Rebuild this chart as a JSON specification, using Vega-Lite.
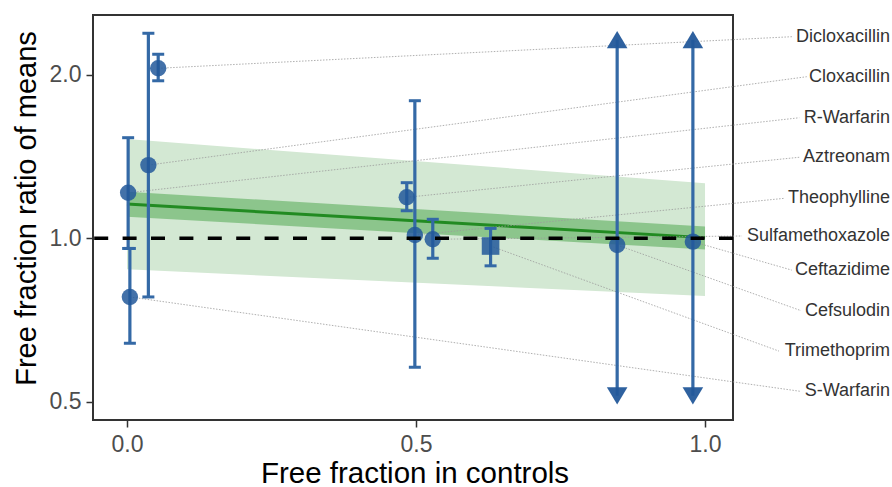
{
  "$schema": "https://vega.github.io/schema/vega-lite/v6.json",
  "width": 640,
  "height": 405,
  "autosize": {"type": "none"},
  "padding": {"left": 93, "top": 15, "right": 159, "bottom": 67},
  "background": "white",
  "config": {
    "font": "Liberation Sans",
    "view": {"stroke": "#333333", "strokeWidth": 2},
    "axis": {
      "grid": false,
      "domain": false,
      "tickColor": "#333333",
      "tickWidth": 1.5,
      "tickSize": 7,
      "labelColor": "#4d4d4d",
      "labelFont": "Liberation Sans",
      "titleFont": "Liberation Sans",
      "titleFontWeight": "normal",
      "titleColor": "#000000"
    }
  },
  "datasets": {
    "drugs": [
      {"name": "Dicloxacillin", "ff": 0.054, "ratio": 2.056, "lo": 1.950, "hi": 2.182, "arrow": false, "shape": "circle", "label_y": 2.351, "seg_end": 1.152},
      {"name": "Cloxacillin", "ff": 0.037, "ratio": 1.364, "lo": 0.780, "hi": 2.385, "arrow": false, "shape": "circle", "label_y": 1.984, "seg_end": 1.176},
      {"name": "R-Warfarin", "ff": 0.002, "ratio": 1.213, "lo": 0.958, "hi": 1.532, "arrow": false, "shape": "circle", "label_y": 1.667, "seg_end": 1.163},
      {"name": "Aztreonam", "ff": 0.484, "ratio": 1.190, "lo": 1.124, "hi": 1.266, "arrow": false, "shape": "circle", "label_y": 1.410, "seg_end": 1.163},
      {"name": "Theophylline", "ff": 0.498, "ratio": 1.014, "lo": 0.579, "hi": 1.792, "arrow": false, "shape": "circle", "label_y": 1.185, "seg_end": 1.138},
      {"name": "Sulfamethoxazole", "ff": 0.529, "ratio": 0.996, "lo": 0.919, "hi": 1.084, "arrow": false, "shape": "circle", "label_y": 1.010, "seg_end": 1.064},
      {"name": "Ceftazidime", "ff": 0.979, "ratio": 0.986, "lo": 0.513, "hi": 2.321, "arrow": true, "shape": "circle", "label_y": 0.874, "seg_end": 1.150},
      {"name": "Cefsulodin", "ff": 0.848, "ratio": 0.972, "lo": 0.513, "hi": 2.321, "arrow": true, "shape": "circle", "label_y": 0.736, "seg_end": 1.166},
      {"name": "Trimethoprim", "ff": 0.629, "ratio": 0.968, "lo": 0.890, "hi": 1.043, "arrow": false, "shape": "square", "label_y": 0.620, "seg_end": 1.128},
      {"name": "S-Warfarin", "ff": 0.005, "ratio": 0.780, "lo": 0.641, "hi": 0.958, "arrow": false, "shape": "circle", "label_y": 0.523, "seg_end": 1.164}
    ],
    "fit": [
      {"ff": 0, "fit": 1.1565, "ci_lo": 1.0959, "ci_hi": 1.2185, "pi_lo": 0.8768, "pi_hi": 1.5234},
      {"ff": 1, "fit": 1.003, "ci_lo": 0.9536, "ci_hi": 1.0513, "pi_lo": 0.7830, "pi_hi": 1.2626}
    ]
  },
  "layer": [
    {
      "data": {"name": "fit"},
      "mark": {"type": "area", "color": "#d3e8d3", "opacity": 1},
      "encoding": {
        "x": {"field": "ff", "type": "quantitative", "title": "Free fraction in controls",
              "scale": {"domain": [-0.0588, 1.0484], "nice": false, "zero": false},
              "axis": {"values": [0, 0.5, 1], "format": ".1f", "labelFontSize": 23, "titleFontSize": 29.5, "labelPadding": 6, "titleX": 321.5, "titleY": 62, "titleBaseline": "alphabetic", "titleAlign": "center"}},
        "y": {"field": "pi_lo", "type": "quantitative", "title": "Free fraction ratio of means",
              "scale": {"type": "log", "domain": [0.463, 2.577], "nice": false},
              "axis": {"values": [0.5, 1, 2], "format": ".1f", "labelFontSize": 23, "titleFontSize": 29, "labelPadding": 5, "titleX": -58, "titleY": 193, "titleAngle": 270, "titleBaseline": "alphabetic", "titleAlign": "center"}},
        "y2": {"field": "pi_hi"}
      }
    },
    {
      "data": {"name": "fit"},
      "mark": {"type": "area", "color": "#8cc58c", "opacity": 1},
      "encoding": {
        "x": {"field": "ff", "type": "quantitative", "title": "Free fraction in controls"},
        "y": {"field": "ci_lo", "type": "quantitative", "title": "Free fraction ratio of means"},
        "y2": {"field": "ci_hi"}
      }
    },
    {
      "data": {"name": "fit"},
      "mark": {"type": "line", "color": "#228b22", "strokeWidth": 3},
      "encoding": {
        "x": {"field": "ff", "type": "quantitative", "title": "Free fraction in controls"},
        "y": {"field": "fit", "type": "quantitative", "title": "Free fraction ratio of means"}
      }
    },
    {
      "data": {"name": "drugs"},
      "mark": {"type": "rule", "color": "#9a9a9a", "strokeWidth": 0.8, "strokeDash": [1.5, 1.5]},
      "encoding": {
        "x": {"field": "ff", "type": "quantitative", "title": "Free fraction in controls"},
        "y": {"field": "ratio", "type": "quantitative", "title": "Free fraction ratio of means"},
        "x2": {"field": "seg_end"},
        "y2": {"field": "label_y"}
      }
    },
    {
      "data": {"name": "drugs"},
      "mark": {"type": "rule", "color": "#3469a6", "strokeWidth": 3.2},
      "encoding": {
        "x": {"field": "ff", "type": "quantitative", "title": "Free fraction in controls"},
        "y": {"field": "lo", "type": "quantitative", "title": "Free fraction ratio of means"},
        "y2": {"field": "hi"}
      }
    },
    {
      "data": {"name": "drugs"},
      "transform": [{"filter": "!datum.arrow"}],
      "mark": {"type": "tick", "orient": "horizontal", "size": 12, "thickness": 3, "color": "#3469a6", "opacity": 1},
      "encoding": {
        "x": {"field": "ff", "type": "quantitative", "title": "Free fraction in controls"},
        "y": {"field": "hi", "type": "quantitative", "title": "Free fraction ratio of means"}
      }
    },
    {
      "data": {"name": "drugs"},
      "transform": [{"filter": "!datum.arrow"}],
      "mark": {"type": "tick", "orient": "horizontal", "size": 12, "thickness": 3, "color": "#3469a6", "opacity": 1},
      "encoding": {
        "x": {"field": "ff", "type": "quantitative", "title": "Free fraction in controls"},
        "y": {"field": "lo", "type": "quantitative", "title": "Free fraction ratio of means"}
      }
    },
    {
      "data": {"name": "drugs"},
      "transform": [{"filter": "datum.arrow"}],
      "mark": {"type": "point", "shape": "M0,-1L1.19,1L-1.19,1Z", "size": 300, "filled": true, "color": "#23599a", "opacity": 0.95},
      "encoding": {
        "x": {"field": "ff", "type": "quantitative", "title": "Free fraction in controls"},
        "y": {"field": "hi", "type": "quantitative", "title": "Free fraction ratio of means"}
      }
    },
    {
      "data": {"name": "drugs"},
      "transform": [{"filter": "datum.arrow"}],
      "mark": {"type": "point", "shape": "M0,1L1.19,-1L-1.19,-1Z", "size": 300, "filled": true, "color": "#23599a", "opacity": 0.95},
      "encoding": {
        "x": {"field": "ff", "type": "quantitative", "title": "Free fraction in controls"},
        "y": {"field": "lo", "type": "quantitative", "title": "Free fraction ratio of means"}
      }
    },
    {
      "data": {"name": "drugs"},
      "transform": [{"filter": "datum.shape == 'circle'"}],
      "mark": {"type": "point", "shape": "circle", "size": 270, "filled": true, "color": "#22589a", "opacity": 0.85},
      "encoding": {
        "x": {"field": "ff", "type": "quantitative", "title": "Free fraction in controls"},
        "y": {"field": "ratio", "type": "quantitative", "title": "Free fraction ratio of means"}
      }
    },
    {
      "data": {"name": "drugs"},
      "transform": [{"filter": "datum.shape == 'square'"}],
      "mark": {"type": "point", "shape": "square", "size": 310, "filled": true, "color": "#22589a", "opacity": 0.85},
      "encoding": {
        "x": {"field": "ff", "type": "quantitative", "title": "Free fraction in controls"},
        "y": {"field": "ratio", "type": "quantitative", "title": "Free fraction ratio of means"}
      }
    },
    {
      "data": {"values": [{}]},
      "mark": {"type": "rule", "color": "#000000", "strokeWidth": 3.5, "strokeDash": [14, 14.4]},
      "encoding": {
        "y": {"datum": 1, "type": "quantitative", "title": "Free fraction ratio of means"}
      }
    },
    {
      "data": {"name": "drugs"},
      "mark": {"type": "text", "align": "right", "baseline": "middle", "fontSize": 18, "color": "#333333", "font": "Liberation Sans"},
      "encoding": {
        "x": {"datum": 1.3201, "type": "quantitative", "title": "Free fraction in controls"},
        "y": {"field": "label_y", "type": "quantitative", "title": "Free fraction ratio of means"},
        "text": {"field": "name"}
      }
    }
  ]
}
